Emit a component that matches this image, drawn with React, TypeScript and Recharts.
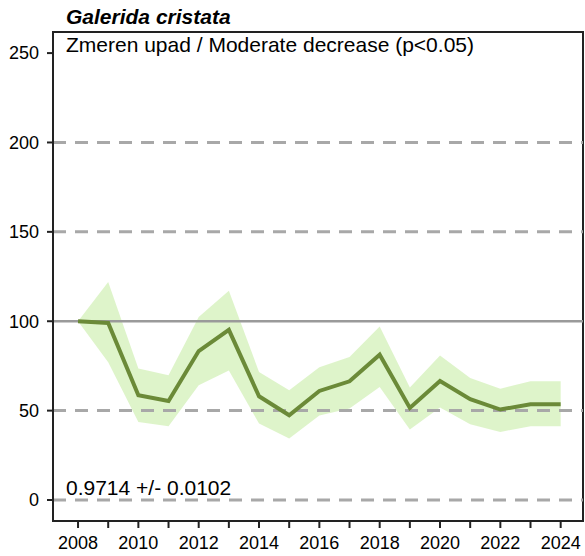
import React from 'react';
import {
  ComposedChart,
  Line,
  Area,
  XAxis,
  YAxis,
  ReferenceLine,
  ReferenceArea,
} from 'recharts';

const years = [2008, 2009, 2010, 2011, 2012, 2013, 2014, 2015, 2016, 2017, 2018, 2019, 2020, 2021, 2022, 2023, 2024];
const index = [100, 99, 58.6, 55.4, 83.3, 95.2, 58, 47.4, 61, 66.4, 81.3, 51.5, 66.6, 56.4, 50.6, 53.6, 53.6];
const upper = [100, 122, 73.5, 69.8, 102.3, 117, 71.6, 61.4, 74.3, 80, 97, 62.9, 80.9, 68.3, 62.3, 66.4, 66.4];
const lower = [100, 77, 43.7, 41.3, 64.2, 72.5, 42.8, 34.4, 47.2, 51.2, 63.2, 39.4, 51.7, 42.4, 38.1, 41.3, 41.3];
const yTicks = [0, 50, 100, 150, 200, 250];
const dashedLevels = [0, 50, 150, 200];
const xLabelYears = [2008, 2010, 2012, 2014, 2016, 2018, 2020, 2022, 2024];
const title = 'Galerida cristata';
const subtitle = 'Zmeren upad / Moderate decrease (p<0.05)';
const slopeText = '0.9714 +/- 0.0102';

const data = years.map((y, i) => ({ year: y, index: index[i], band: [lower[i], upper[i]] }));

const X_DOMAIN: [number, number] = [2007.17, 2024.74];
const Y_DOMAIN: [number, number] = [-11.75, 261.8];
const FONT = 'Liberation Sans, Arial, sans-serif';

export default function App() {
  return (
    <div style={{ position: 'absolute', left: 0, top: 0, width: 585, height: 556 }}>
      <ComposedChart
        width={585}
        height={556}
        data={data}
        margin={{ top: 32, right: 2, bottom: 0, left: 0 }}
        style={{ fontFamily: FONT }}
      >
        <XAxis
          dataKey="year"
          type="number"
          domain={X_DOMAIN}
          ticks={years}
          allowDataOverflow
          height={35}
          tickSize={7}
          tickMargin={8}
          interval={0}
          tickFormatter={(v: number) => (xLabelYears.includes(v) ? String(v) : '')}
          axisLine={{ stroke: '#222', strokeWidth: 2 }}
          tickLine={{ stroke: '#222', strokeWidth: 2 }}
          tick={{ fill: '#000', fontSize: 18, fontFamily: FONT }}
        />
        <YAxis
          type="number"
          domain={Y_DOMAIN}
          ticks={yTicks}
          allowDataOverflow
          width={53}
          tickSize={6}
          tickMargin={8}
          interval={0}
          axisLine={{ stroke: '#222', strokeWidth: 2 }}
          tickLine={{ stroke: '#222', strokeWidth: 2 }}
          tick={{ fill: '#000', fontSize: 18, fontFamily: FONT }}
        />
        <Area
          dataKey="band"
          type="linear"
          stroke="none"
          fill="#c8eda6"
          fillOpacity={0.6}
          isAnimationActive={false}
          activeDot={false}
        />
        {dashedLevels.map((v) => (
          <ReferenceLine key={v} y={v} stroke="#a8a8a8" strokeWidth={3} strokeDasharray="13 9" />
        ))}
        <ReferenceLine y={100} stroke="#9a9a9a" strokeWidth={2.5} />
        <Line
          dataKey="index"
          type="linear"
          stroke="#6b8a38"
          strokeWidth={4}
          dot={false}
          activeDot={false}
          isAnimationActive={false}
        />
        <ReferenceArea
          x1={X_DOMAIN[0]}
          x2={X_DOMAIN[1]}
          y1={Y_DOMAIN[0]}
          y2={Y_DOMAIN[1]}
          fill="none"
          stroke="#222"
          strokeWidth={2}
          ifOverflow="visible"
        />
      </ComposedChart>
      <div
        style={{
          position: 'absolute',
          left: 66,
          top: 5,
          fontFamily: FONT,
          fontSize: 21,
          fontWeight: 'bold',
          fontStyle: 'italic',
          lineHeight: '24px',
          whiteSpace: 'nowrap',
        }}
      >
        {title}
      </div>
      <div
        style={{
          position: 'absolute',
          left: 66,
          top: 33,
          fontFamily: FONT,
          fontSize: 21,
          lineHeight: '24px',
          whiteSpace: 'nowrap',
        }}
      >
        {subtitle}
      </div>
      <div
        style={{
          position: 'absolute',
          left: 66,
          top: 476,
          fontFamily: FONT,
          fontSize: 21,
          lineHeight: '24px',
          whiteSpace: 'nowrap',
        }}
      >
        {slopeText}
      </div>
    </div>
  );
}
